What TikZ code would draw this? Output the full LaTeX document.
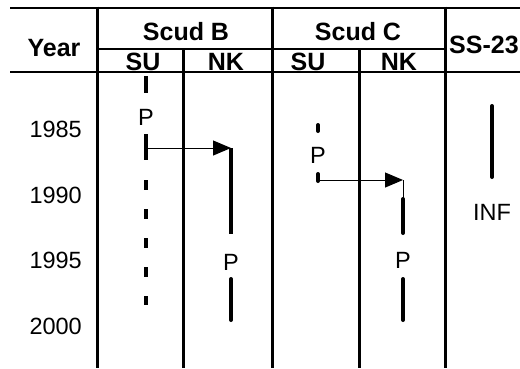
\documentclass[tikz,border=0pt]{standalone}
\usepackage{fontspec}
\setmainfont{Liberation Sans}
\usetikzlibrary{arrows.meta}
\begin{document}
\begin{tikzpicture}[x=1pt,y=-1pt,
  grid/.style={line width=3pt},
  rule/.style={line width=2pt},
  hdr/.style={font=\fontsize{25}{25}\selectfont\bfseries, inner sep=0pt, anchor=base},
  lbl/.style={font=\fontsize{23.5}{23.5}\selectfont, inner sep=0pt, anchor=base},
  bar/.style={line width=4.5pt},
  rbar/.style={line width=4pt, line cap=round},
  link/.style={line width=1pt, -{Triangle[length=18pt,width=15pt]}}
]
\useasboundingbox (0,0) rectangle (520,368);
% table rules
\draw[rule] (10,7.5) -- (520,7.5);
\draw[rule] (97,49) -- (445,49);
\draw[rule] (10,71.5) -- (520,71.5);
\draw[grid] (97,6.5) -- (97,368);
\draw[grid] (272,6.5) -- (272,368);
\draw[grid] (445,6.5) -- (445,368);
\draw[grid] (183,48) -- (183,368);
\draw[grid] (359,48) -- (359,368);
% headers
\node[hdr] (year) at (54,56) {Year};
\node[hdr] (scudb) at (186,40) {Scud B};
\node[hdr] (scudc) at (358,40) {Scud C};
\node[hdr] (subh) at (143,70.5) {SU};
\node[hdr] (nkbh) at (226,70.5) {NK};
\node[hdr] (such) at (308,70.5) {SU};
\node[hdr] (nkch) at (399,70.5) {NK};
\node[hdr, anchor=base west] (ss23) at (449,53) {SS-23};
% years
\node[lbl, anchor=base east] (y85) at (82,137) {1985};
\node[lbl, anchor=base east] (y90) at (82,203) {1990};
\node[lbl, anchor=base east] (y95) at (82,268.5) {1995};
\node[lbl, anchor=base east] (y00) at (82,334) {2000};
% Scud B SU
\draw[bar] (146,76) -- (146,93);
\node[lbl] (pbsu) at (146,125) {P};
\draw[bar] (146,134) -- (146,160);
\draw[bar, dash pattern=on 10pt off 19pt] (146,180) -- (146,305);
\coordinate (bsu) at (146,148);
\coordinate (bnk) at (231,148);
\draw[link] (bsu) -- (bnk);
% Scud B NK
\draw[line width=4.5pt] (bnk) -- (231,234);
\node[lbl] (pbnk) at (231,270) {P};
\draw[rbar] (231,279) -- (231,320);
% Scud C SU
\draw[rbar] (318,125) -- (318,131);
\node[lbl] (pcsu) at (318,163) {P};
\draw[rbar] (318,174) -- (318,181);
\coordinate (csu) at (318,180);
\coordinate (cnk) at (403,180);
\draw[link] (csu) -- (cnk);
% Scud C NK
\draw[line width=1pt] (cnk) -- (403,198);
\draw[rbar] (403,199) -- (403,233);
\node[lbl] (pcnk) at (403,268) {P};
\draw[rbar] (403,279) -- (403,320);
% SS-23
\draw[rbar] (492,106) -- (492,177);
\node[lbl] (inf) at (492,220) {INF};
\end{tikzpicture}
\end{document}
